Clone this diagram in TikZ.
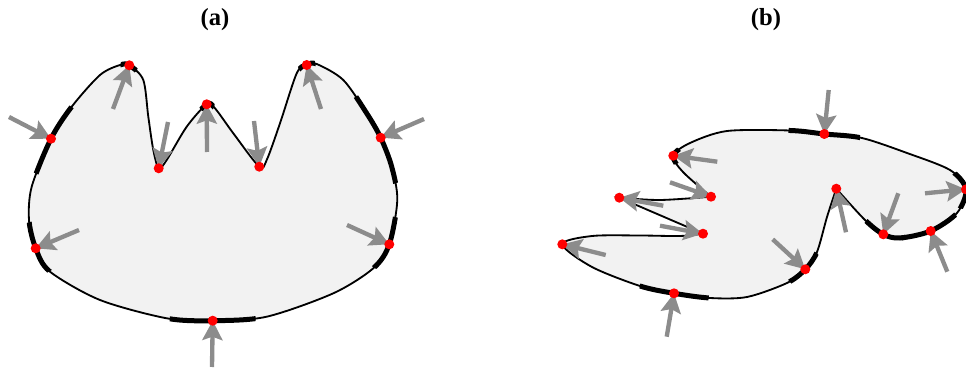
\documentclass[tikz,border=0pt]{standalone}
\usepackage{fontspec}
\setmainfont{Liberation Serif}
\usetikzlibrary{arrows.meta}
\definecolor{shapefill}{HTML}{F2F2F2}
\definecolor{forcegray}{HTML}{8C8C8C}
\newcommand\outlineA{plot[smooth cycle] coordinates {(aBot) (166.7,318.3) (100,300) (50,271.7) (aLlo) (29,220) (31.7,186.7) (aLup) (71.7,106.7) (100,75) (120,65) (aPkL) (143.3,80) (148.3,116.7) (153.3,150) (aVaL) (166.7,160) (186.7,126.7) (aPkM) (215,108.3) (233.3,133.3) (aVaR) (266.7,160) (280,123.3) (296.7,73.3) (aPkR) (316.7,64) (343.3,80) (366.7,113.3) (aRup) (391.7,166.7) (397.3,200) (aRlo) (373.3,268.3) (333.3,293.3) (266.7,316.7)}}
\newcommand\outlineB{plot[smooth] coordinates {(bIn1) (683,172) (bNtip) (690,143) (727,131) (790,130.5) (bTop) (862,138) (907,153) (950,170) (bRgt) (957,213) (bRlo) (900,238) (bDip) (865,220) (bPk)} -- plot[smooth] coordinates {(bPk) (827,217) (817,252) (bLr) (787,283) (747,297) (710,298) (bBot) (640,286) (592,267) (bLft) (592,236) (640,235.5) (680,236) (bIn2)} -- (bOut) -- plot[smooth] coordinates {(bOut) (660,200) (bIn1)} -- cycle}

\begin{document}
\begin{tikzpicture}[x=0.03cm,y=-0.03cm,font=\fontsize{21}{24}\selectfont\bfseries,outline/.style={line width=0.55mm},thickseg/.style={line width=1.5mm},force/.style={draw=forcegray,line width=1.3mm,-{Stealth[length=5.8mm,width=6mm,inset=1mm]}},contact/.style={fill=red}]
\useasboundingbox (0,0) rectangle (966,368);
\node (labA) at (215,20){(a)};
\node (labB) at (766,20){(b)};
% contact points, panel (a)
\coordinate (aBot) at (212.7,320.7);\coordinate (aLlo) at (35.7,248.3);\coordinate (aLup) at (51,138.7);\coordinate (aPkL) at (129.3,65.3);\coordinate (aVaL) at (158.7,168.3);
\coordinate (aPkM) at (206.7,104.3);\coordinate (aVaR) at (259.3,166.7);\coordinate (aPkR) at (306.7,65);\coordinate (aRup) at (380.7,137.7);\coordinate (aRlo) at (389.3,244.3);
% arrow tails, panel (a)
\coordinate (aBot-t) at (212,367);\coordinate (aLlo-t) at (79,230);\coordinate (aLup-t) at (9,117);\coordinate (aPkL-t) at (113,109);\coordinate (aVaL-t) at (168,122);
\coordinate (aPkM-t) at (207,152);\coordinate (aVaR-t) at (254,121);\coordinate (aPkR-t) at (321,109);\coordinate (aRup-t) at (424,119);\coordinate (aRlo-t) at (347,225);
% contact points, panel (b)
\coordinate (bTop) at (824.3,134);\coordinate (bNtip) at (673.3,155.7);\coordinate (bIn1) at (711,196.7);\coordinate (bOut) at (619.3,197.7);\coordinate (bIn2) at (703,233.7);\coordinate (bLft) at (562.3,244.3);
\coordinate (bBot) at (674,293.3);\coordinate (bLr) at (805.3,269.3);\coordinate (bPk) at (836.3,188.7);\coordinate (bDip) at (883.3,234.3);\coordinate (bRlo) at (930.7,231);\coordinate (bRgt) at (966,189.3);
% arrow tails, panel (b)
\coordinate (bTop-t) at (828.7,90);\coordinate (bNtip-t) at (717.3,161.7);\coordinate (bIn1-t) at (670,182.3);\coordinate (bOut-t) at (663.3,205.7);\coordinate (bIn2-t) at (660,225.7);\coordinate (bLft-t) at (605.7,255);
\coordinate (bBot-t) at (666.7,336.7);\coordinate (bLr-t) at (772.7,239.3);\coordinate (bPk-t) at (846,232.3);\coordinate (bDip-t) at (898.3,193.3);\coordinate (bRlo-t) at (947.3,271.7);\coordinate (bRgt-t) at (925,193.3);
% bodies
\fill[shapefill] \outlineA;
\fill[shapefill] \outlineB;
\foreach \p/\r in {aBot/43,aLup/38,aLlo/27,aRup/48,aRlo/28,aPkL/9,aPkM/8,aPkR/9}{\begin{scope}\clip (\p) circle[radius=\r];\draw[thickseg] \outlineA;\end{scope}}
\foreach \p/\r in {bTop/36,bLr/20,bBot/35,bDip/22,bRlo/30,bRgt/20,bNtip/9}{\begin{scope}\clip (\p) circle[radius=\r];\draw[thickseg] \outlineB;\end{scope}}
\draw[outline] \outlineA;
\draw[outline] \outlineB;
% forces and contacts
\foreach \p in {aBot,aLlo,aLup,aPkL,aVaL,aPkM,aVaR,aPkR,aRup,aRlo,bTop,bNtip,bIn1,bOut,bIn2,bLft,bBot,bLr,bPk,bDip,bRlo,bRgt}{\draw[force] (\p-t) -- (\p);}
\foreach \p in {aBot,aLlo,aLup,aPkL,aVaL,aPkM,aVaR,aPkR,aRup,aRlo,bTop,bNtip,bIn1,bOut,bIn2,bLft,bBot,bLr,bPk,bDip,bRlo,bRgt}{\fill[contact] (\p) circle[radius=5];}
\end{tikzpicture}
\end{document}
